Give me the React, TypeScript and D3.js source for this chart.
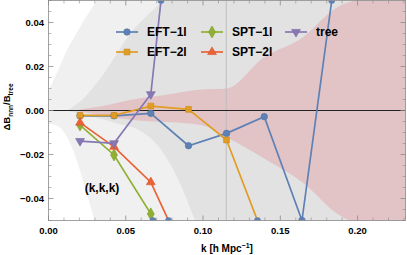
import React from "react";
import * as d3 from "d3";

// k values of the measurement bins
const kVals = [0.0204, 0.0424, 0.0662, 0.0906, 0.1152, 0.1396, 0.164, 0.1884];

// Delta B / B_tree per model (values past the frame are clipped)
const eft1 = [-0.0024, -0.0024, -0.0013, -0.016, -0.0104, -0.0028, -0.05, 0.0766];
const eft2 = [-0.0022, -0.0022, 0.002, 0.0005, -0.0134, -0.058];
const spt1 = [-0.0066, -0.0202, -0.047, -0.1];
const spt2 = [-0.0055, -0.0165, -0.0326, -0.0696];
const tree = [-0.0139, -0.0149, 0.0074, 0.165];

const seriesNames = ["EFT\u22121l", "EFT\u22122l", "SPT\u22121l", "SPT\u22122l", "tree"];
const seriesColors = ["#5E81B5", "#E19C24", "#8FB032", "#EB6235", "#8778B3"];

// shaded bands (outer light grey, middle grey, pink)
const band1UpK = [0, 0.006, 0.012, 0.018, 0.023, 0.031, 0.05, 0.231];
const band1Up = [0.009, 0.018, 0.0275, 0.035, 0.041, 0.05, 0.08, 0.3];
const band1LoK = [0, 0.006, 0.012, 0.018, 0.024, 0.03, 0.05, 0.231];
const band1Lo = [-0.006, -0.007, -0.012, -0.022, -0.036, -0.05, -0.08, -0.3];

const band2UpK = [0.012, 0.022, 0.035, 0.053, 0.074, 0.1, 0.231];
const band2Up = [0, 0.005, 0.016, 0.035, 0.05, 0.07, 0.3];
const band2LoK = [0.012, 0.03, 0.045, 0.059, 0.075, 0.085, 0.095, 0.12, 0.231];
const band2Lo = [0, -0.003, -0.006, -0.009, -0.02, -0.033, -0.05, -0.08, -0.3];

const pinkUpK = [0.02, 0.035, 0.0527, 0.075, 0.0987, 0.1153, 0.139, 0.164, 0.187, 0.2, 0.231];
const pinkUp = [0.0005, 0.002, 0.0048, 0.007, 0.0095, 0.01, 0.024, 0.033, 0.047, 0.0505, 0.06];
const pinkLoK = [0.02, 0.05, 0.0987, 0.115, 0.14, 0.164, 0.188, 0.196, 0.231];
const pinkLo = [-0.0005, -0.004, -0.0066, -0.012, -0.022, -0.0325, -0.0475, -0.0505, -0.06];

const xTicks = [0, 0.05, 0.1, 0.15, 0.2];
const yTicks = [-0.04, -0.02, 0, 0.02, 0.04];
const cutK = 0.115;

const W = 407;
const H = 255;
const x = d3.scaleLinear().domain([0, 0.231]).range([48.5, 405.5]);
const y = d3.scaleLinear().domain([-0.05, 0.05]).range([220.5, 0.5]);
const font = "'Liberation Sans', Arial, sans-serif";

function bandPath(upK, up, loK, lo) {
  const upper = upK.map((k, i) => [k, up[i]]);
  const lower = loK.map((k, i) => [k, lo[i]]).reverse();
  const line = d3.line().x((d) => x(d[0])).y((d) => y(d[1])).curve(d3.curveMonotoneX);
  const a = line(upper);
  const b = d3.line().x((d) => x(d[0])).y((d) => y(d[1])).curve(d3.curveMonotoneX)(lower);
  return a + "L" + b.slice(1) + "Z";
}

const symbols = [
  d3.symbol(d3.symbolCircle, 34)(),
  d3.symbol(d3.symbolSquare, 34)(),
  d3.symbol(d3.symbolDiamond, 42)(),
  d3.symbol(d3.symbolTriangle, 34)(),
  d3.symbol(d3.symbolTriangle, 34)(),
];

function Marker({ i, cx, cy }) {
  const rot = i === 4 ? " rotate(180)" : "";
  return (
    <path
      d={symbols[i]}
      transform={`translate(${cx},${cy})${rot}`}
      fill={seriesColors[i]}
      stroke={d3.color(seriesColors[i]).darker(0.3)}
      strokeWidth={0.6}
    />
  );
}

const inRange = (v) => v >= -0.0501 && v <= 0.0501;

function crossings(vals) {
  const out = [];
  for (let i = 0; i < vals.length - 1; i++) {
    const a = vals[i];
    const b = vals[i + 1];
    if (inRange(a) === inRange(b)) continue;
    const [pin, pout, kin, kout] = inRange(a)
      ? [a, b, kVals[i], kVals[i + 1]]
      : [b, a, kVals[i + 1], kVals[i]];
    const edge = pout > 0 ? 0.05 : -0.05;
    const t = (edge - pin) / (pout - pin);
    out.push([kin + t * (kout - kin), edge]);
  }
  return out;
}

export default function App() {
  const all = [eft1, eft2, spt1, spt2, tree];
  const line = d3
    .line()
    .x((d) => x(d[0]))
    .y((d) => y(d[1]));

  const xMinor = d3.range(0, 0.231, 0.01).filter((v) => Math.abs(v * 20 - Math.round(v * 20)) > 1e-6);
  const yMinor = d3.range(-0.05, 0.0501, 0.005).filter((v) => Math.abs(v * 50 - Math.round(v * 50)) > 1e-6);
  const [x0, x1] = x.range();
  const [y1, y0] = y.range();

  const legend = [
    { i: 0, lx: 116, ty: 32 },
    { i: 1, lx: 116, ty: 52 },
    { i: 2, lx: 201, ty: 32 },
    { i: 3, lx: 201, ty: 52 },
    { i: 4, lx: 285, ty: 32 },
  ];

  return (
    <svg width={W} height={H} style={{ position: "absolute", left: 0, top: 0, background: "#fff" }} fontFamily={font}>
      <defs>
        <clipPath id="plot">
          <rect x={x0} y={y0} width={x1 - x0} height={y1 - y0} />
        </clipPath>
      </defs>

      <g clipPath="url(#plot)">
        <path d={bandPath(band1UpK, band1Up, band1LoK, band1Lo)} fill="#F0F0F0" />
        <path d={bandPath(band2UpK, band2Up, band2LoK, band2Lo)} fill="#E2E2E2" />
        <path d={bandPath(pinkUpK, pinkUp, pinkLoK, pinkLo)} fill="#E2C4C7" />
        <line x1={x(cutK)} x2={x(cutK)} y1={y0} y2={y1} stroke="#BDBDBD" strokeWidth={1} />
        <line x1={x0} x2={x1} y1={y(0)} y2={y(0)} stroke="#222" strokeWidth={1} />

        {all.map((vals, i) => (
          <path
            key={"l" + i}
            d={line(vals.map((v, j) => [kVals[j], v]))}
            fill="none"
            stroke={seriesColors[i]}
            strokeWidth={1.7}
          />
        ))}
        {all.map((vals, i) =>
          vals.map((v, j) =>
            inRange(v) ? <Marker key={"m" + i + j} i={i} cx={x(kVals[j])} cy={y(v)} /> : null
          )
        )}
        {all.map((vals, i) =>
          crossings(vals).map((c, j) => (
            <circle key={"c" + i + j} cx={x(c[0])} cy={y(c[1])} r={3.3} fill={seriesColors[0]} />
          ))
        )}
      </g>

      {/* frame */}
      <rect x={x0} y={y0} width={x1 - x0} height={y1 - y0} fill="none" stroke="#8a8a8a" strokeWidth={0.8} />
      {xTicks.map((t) => (
        <g key={"xt" + t} stroke="#8a8a8a" strokeWidth={0.8}>
          <line x1={x(t)} x2={x(t)} y1={y1} y2={y1 - 5} />
          <line x1={x(t)} x2={x(t)} y1={y0} y2={y0 + 5} />
        </g>
      ))}
      {xMinor.map((t) => (
        <g key={"xm" + t} stroke="#8a8a8a" strokeWidth={0.6}>
          <line x1={x(t)} x2={x(t)} y1={y1} y2={y1 - 3} />
          <line x1={x(t)} x2={x(t)} y1={y0} y2={y0 + 3} />
        </g>
      ))}
      {yTicks.map((t) => (
        <g key={"yt" + t} stroke="#8a8a8a" strokeWidth={0.8}>
          <line x1={x0} x2={x0 + 5} y1={y(t)} y2={y(t)} />
          <line x1={x1} x2={x1 - 5} y1={y(t)} y2={y(t)} />
        </g>
      ))}
      {yMinor.map((t) => (
        <g key={"ym" + t} stroke="#8a8a8a" strokeWidth={0.6}>
          <line x1={x0} x2={x0 + 3} y1={y(t)} y2={y(t)} />
          <line x1={x1} x2={x1 - 3} y1={y(t)} y2={y(t)} />
        </g>
      ))}

      {xTicks.map((t) => (
        <text key={"xl" + t} x={x(t)} y={233.5} textAnchor="middle" fontSize={9.5} fontWeight="bold">
          {t.toFixed(2)}
        </text>
      ))}
      {yTicks.map((t) => (
        <text key={"yl" + t} x={44} y={y(t) + 3.4} textAnchor="end" fontSize={9.5} fontWeight="bold">
          {(t < 0 ? "\u2212" : "") + Math.abs(t).toFixed(2)}
        </text>
      ))}

      <text x={227} y={252} textAnchor="middle" fontSize={10} fontWeight="bold">
        k [h Mpc<tspan dy={-4} fontSize={7}>{"\u22121"}</tspan>
        <tspan dy={4}>]</tspan>
      </text>
      <text transform="translate(10,107) rotate(-90)" textAnchor="middle" fontSize={9.5} fontWeight="bold">
        {"\u0394B"}
        <tspan dy={2.5} fontSize={6.5}>nnn</tspan>
        <tspan dy={-2.5}>/B</tspan>
        <tspan dy={2.5} fontSize={6.5}>tree</tspan>
      </text>

      <text x={102} y={192} textAnchor="middle" fontSize={12} fontWeight="bold">
        (k,k,k)
      </text>

      {legend.map(({ i, lx, ty }) => (
        <g key={"lg" + i}>
          <line x1={lx} x2={lx + 22} y1={ty} y2={ty} stroke={seriesColors[i]} strokeWidth={1.7} />
          <Marker i={i} cx={lx + 11} cy={ty} />
          <text x={lx + 31} y={ty + 4.3} fontSize={12} fontWeight="bold">
            {seriesNames[i]}
          </text>
        </g>
      ))}
    </svg>
  );
}
